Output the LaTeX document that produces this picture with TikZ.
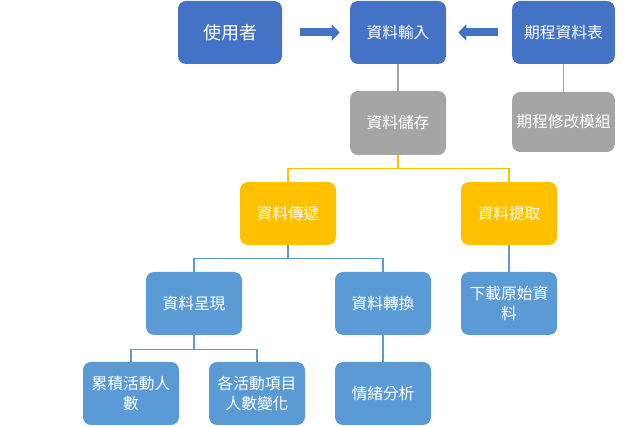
\documentclass[tikz,border=0pt]{standalone}
\usepackage{fontspec}
\newfontfamily\cjk{Noto Sans CJK TC}
\usetikzlibrary{arrows.meta,positioning}

\definecolor{darkblue}{HTML}{4472C4}
\definecolor{lightblue}{HTML}{5B9BD5}
\definecolor{midgray}{HTML}{A5A5A5}
\definecolor{gold}{HTML}{FFC000}

\begin{document}
\begin{tikzpicture}[
    x=0.75pt, y=-0.75pt,
    box/.style={rounded corners=6pt, minimum width=72pt, minimum height=47.25pt, align=center, text=white, inner sep=2pt, font=\cjk\fontsize{11.8}{14.5}\selectfont},
    topbox/.style={box, fill=darkblue},
    graybox/.style={box, fill=midgray},
    yellowbox/.style={box, fill=gold},
    bluebox/.style={box, fill=lightblue},
    blockarr/.style={draw=darkblue, line width=6pt, -{Triangle[length=6pt 0, width=12pt 0]}},
    grayline/.style={draw=midgray, line width=0.8pt},
    yellowline/.style={draw=gold, line width=0.8pt},
    blueline/.style={draw=lightblue, line width=0.8pt}
]
\useasboundingbox (0,0) rectangle (640,427);

% top row
\node[topbox, minimum width=78pt, font=\cjk\fontsize{13.5}{16}\selectfont] (user) at (230,32.5) {使用者};
\node[topbox] (input) at (398,32.5) {資料輸入};
\node[topbox, minimum width=77pt] (sched) at (563.5,32.5) {期程資料表};

\draw[blockarr, shorten <=13.5pt, shorten >=7.5pt] (user.east) -- (input.west);
\draw[blockarr, shorten <=10.5pt, shorten >=9pt] (sched.west) -- (input.east);

% storage and schedule module
\node[graybox, minimum height=48pt] (store) at (398,123) {資料儲存};
\node[graybox, minimum width=77pt, minimum height=45pt] (modify) at (563.5,122) {期程修改模組};

\draw[grayline] (input.south) -- (store.north);
\draw[grayline] (sched.south) -- (modify.north);

% transfer / fetch
\node[yellowbox] (transfer) at (288,213.5) {資料傳遞};
\node[yellowbox] (fetch) at (509,213.5) {資料提取};

\draw[yellowline] (store.south) -- ++(0,13) -| (transfer.north);
\draw[yellowline] (store.south) -- ++(0,13) -| (fetch.north);

% third level
\node[bluebox] (present) at (194,303.5) {資料呈現};
\node[bluebox] (convert) at (383,303.5) {資料轉換};
\node[bluebox] (download) at (509,303.5) {下載原始資\\料};

\draw[blueline] (transfer.south) -- ++(0,13) -| (present.north);
\draw[blueline] (transfer.south) -- ++(0,13) -| (convert.north);
\draw[blueline] (fetch.south) -- (download.north);

% bottom row
\node[bluebox] (cumul) at (131,393.5) {累積活動人\\數};
\node[bluebox] (change) at (257,393.5) {各活動項目\\人數變化};
\node[bluebox] (emotion) at (383,393.5) {情緒分析};

\draw[blueline] (present.south) -- ++(0,14) -| (cumul.north);
\draw[blueline] (present.south) -- ++(0,14) -| (change.north);
\draw[blueline] (convert.south) -- (emotion.north);
\end{tikzpicture}
\end{document}
